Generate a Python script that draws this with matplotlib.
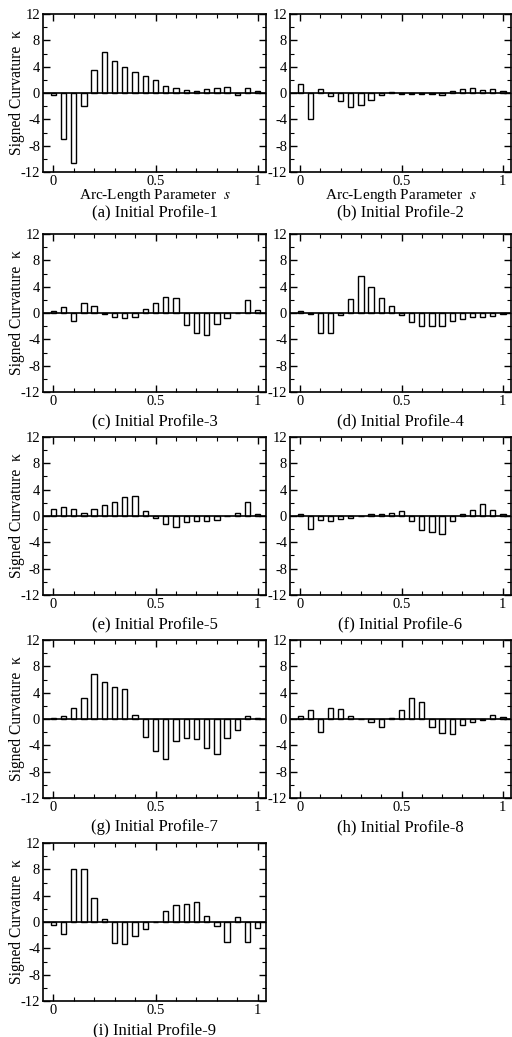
import numpy as np
import matplotlib
matplotlib.use("Agg")
import matplotlib.pyplot as plt
from matplotlib.ticker import MultipleLocator

plt.rcParams["font.family"] = ["Liberation Serif", "DejaVu Serif"]
plt.rcParams["mathtext.fontset"] = "stix"
plt.rcParams["axes.unicode_minus"] = False

s = np.round(np.arange(21) * 0.05, 2)

k1 = [-0.3, -7.0, -10.6, -2.0, 3.5, 6.2, 4.8, 3.9, 3.2, 2.6, 2.0,
      1.1, 0.75, 0.5, 0.3, 0.55, 0.7, 0.85, -0.3, 0.7, 0.25]
k2 = [1.3, -4.0, 0.6, -0.4, -1.2, -2.1, -1.8, -1.0, -0.35, 0.1, -0.1,
      -0.15, -0.2, -0.2, -0.3, 0.3, 0.6, 0.7, 0.45, 0.6, 0.25]
k3 = [0.25, 0.85, -1.2, 1.5, 1.1, -0.1, -0.55, -0.8, -0.6, 0.65, 1.5,
      2.5, 2.3, -1.8, -3.1, -3.3, -1.6, -0.7, 0.0, 2.0, 0.4]
k4 = [0.3, -0.15, -3.1, -3.0, -0.3, 2.2, 5.6, 4.0, 2.3, 1.0, -0.3,
      -1.3, -2.0, -2.0, -2.0, -1.2, -0.9, -0.6, -0.6, -0.4, -0.1]
k5 = [1.0, 1.4, 1.1, 0.5, 1.1, 1.6, 2.2, 2.9, 3.0, 0.7, -0.35,
      -1.2, -1.6, -0.9, -0.8, -0.7, -0.55, 0.0, 0.45, 2.2, 0.3]
k6 = [0.35, -2.0, -0.6, -0.75, -0.4, -0.25, 0.05, 0.3, 0.35, 0.4, 0.8,
      -0.7, -2.1, -2.5, -2.8, -0.7, 0.3, 0.9, 1.8, 0.9, 0.3]
k7 = [0.1, 0.5, 1.6, 3.2, 6.9, 5.6, 4.8, 4.6, 0.55, -2.7, -4.9,
      -6.1, -3.4, -2.9, -3.0, -4.4, -5.3, -2.9, -1.6, 0.5, 0.1]
k8 = [0.4, 1.4, -2.0, 1.6, 1.5, 0.5, 0.0, -0.4, -1.2, 0.1, 1.3,
      3.2, 2.6, -1.2, -2.1, -2.3, -0.9, -0.4, -0.2, 0.6, 0.35]
k9 = [-0.4, -1.8, 8.1, 8.0, 3.7, 0.4, -3.2, -3.3, -2.2, -1.0, 0.0,
      1.6, 2.6, 2.8, 3.1, 0.9, -0.6, -3.0, 0.7, -3.0, -0.9]

profiles = [k1, k2, k3, k4, k5, k6, k7, k8, k9]
captions = ["(a) Initial Profile-1", "(b) Initial Profile-2", "(c) Initial Profile-3",
            "(d) Initial Profile-4", "(e) Initial Profile-5", "(f) Initial Profile-6",
            "(g) Initial Profile-7", "(h) Initial Profile-8", "(i) Initial Profile-9"]

W, H = 512, 1037
fig = plt.figure(figsize=(W / 100, H / 100), dpi=100)

col_x = [(43, 266), (290, 511)]
row_top = [14, 234, 437, 640, 843]
ax_h = 158

for i, (k, cap) in enumerate(zip(profiles, captions)):
    r, c = divmod(i, 2)
    x0, x1 = col_x[c]
    top = row_top[r]
    bot = top + ax_h
    ax = fig.add_axes([x0 / W, 1 - bot / H, (x1 - x0) / W, ax_h / H])
    ax.bar(s, k, width=0.026, facecolor="white", edgecolor="black", linewidth=1.0)
    ax.axhline(0, color="black", linewidth=1.2)
    ax.set_xlim(-0.05, 1.04)
    ax.set_ylim(-12, 12)
    ax.xaxis.set_minor_locator(MultipleLocator(0.1))
    ax.yaxis.set_major_locator(MultipleLocator(4))
    ax.yaxis.set_minor_locator(MultipleLocator(2))
    ax.set_xticks([0, 0.5, 1])
    ax.set_xticklabels(["0", "0.5", "1"])
    ax.tick_params(which="both", direction="in", top=True, right=True,
                   labelsize=10.5, pad=2)
    ax.tick_params(which="major", length=5, width=1.0)
    ax.tick_params(which="minor", length=3, width=0.8)
    for sp in ax.spines.values():
        sp.set_linewidth(1.2)
    if c == 0:
        ax.set_ylabel("Signed Curvature  κ", fontsize=11.2)
        ax.yaxis.set_label_coords((25 - x0) / (x1 - x0), 0.5)
    if r == 0:
        fig.text((x0 + x1) / 2 / W, 1 - (bot + 24) / H, r"Arc-Length Parameter  $s$",
                 ha="center", va="center", fontsize=11)
        cap_y = bot + 40
    else:
        cap_y = bot + 29
    fig.text((x0 + x1) / 2 / W, 1 - cap_y / H, cap, ha="center", va="center",
             fontsize=12)

fig.savefig("out.png", dpi=100)
